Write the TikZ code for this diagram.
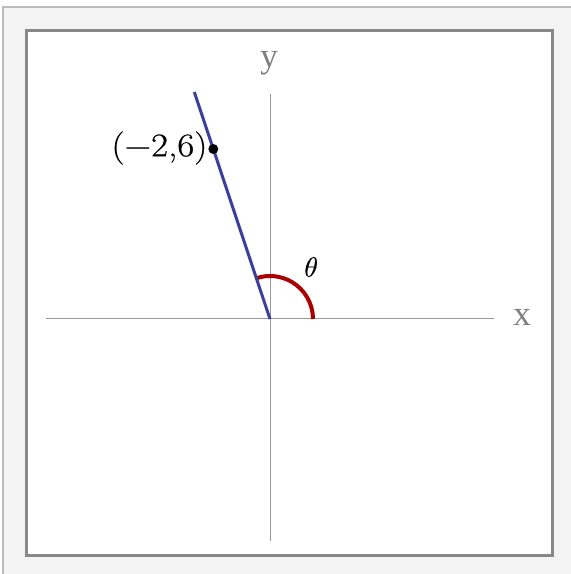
\documentclass[tikz,border=0pt]{standalone}
\usepackage{fontspec}
\usepackage{unicode-math}
\setmathfont{Latin Modern Math}[FakeBold=0.3]
\newfontfamily\axisfont{Liberation Serif}
\newfontfamily\lblfont{Latin Modern Roman}[FakeBold=0.5,FakeStretch=1.12]
\definecolor{bgout}{HTML}{F3F3F3}
\definecolor{bgline}{HTML}{BBBBBB}
\definecolor{framec}{HTML}{888888}
\definecolor{axisc}{HTML}{999999}
\definecolor{labc}{HTML}{7F7F7F}
\definecolor{linec}{HTML}{3B3F99}
\definecolor{arcc}{HTML}{AA0000}
\begin{document}
\begin{tikzpicture}[x=1pt,y=1pt,
  axisline/.style={draw=axisc,line width=1pt},
  axislabel/.style={text=labc,font=\axisfont\fontsize{35}{38}\selectfont,inner sep=0pt},
  rayline/.style={draw=linec,line width=3pt},
  anglearc/.style={draw=arcc,line width=4pt},
  dotstyle/.style={circle,fill=black,inner sep=0pt,minimum size=10pt}]
\useasboundingbox (0,0) rectangle (571,574);
% outer background
\fill[bgout] (3,0) rectangle (571,567);
\draw[bgline,line width=1.5pt] (3,0) -- (3,567) -- (571,567);
% inner frame
\draw[framec,fill=white,line width=3pt] (26.5,18.5) rectangle (552.5,543.5);
% axes
\coordinate (O) at (270,255);
\coordinate (xl) at (46,255);
\coordinate (xr) at (494,255);
\coordinate (yt) at (270,480);
\coordinate (yb) at (270,33);
\draw[axisline] (xl) -- (xr);
\draw[axisline] (yt) -- (yb);
\node[axislabel] (xlab) at (522,257) {x};
\node[axislabel] (ylab) at (269,511) {y};
% angle arc
\draw[anglearc] (313,255) arc[start angle=0,end angle=108.43,radius=43];
% ray
\coordinate (rayend) at (194.3,482);
\draw[rayline] (O) -- (rayend);
\node[dotstyle] (P) at (213.3,425) {};
\node[anchor=east,inner sep=0pt,font=\lblfont\fontsize{33}{36}\selectfont] (Plab) at ([xshift=-0.5pt,yshift=1pt]P.west) {(−2,6)};
\node[font=\fontsize{28}{32}\selectfont] (theta) at (311,307) {$\theta$};
\end{tikzpicture}
\end{document}
